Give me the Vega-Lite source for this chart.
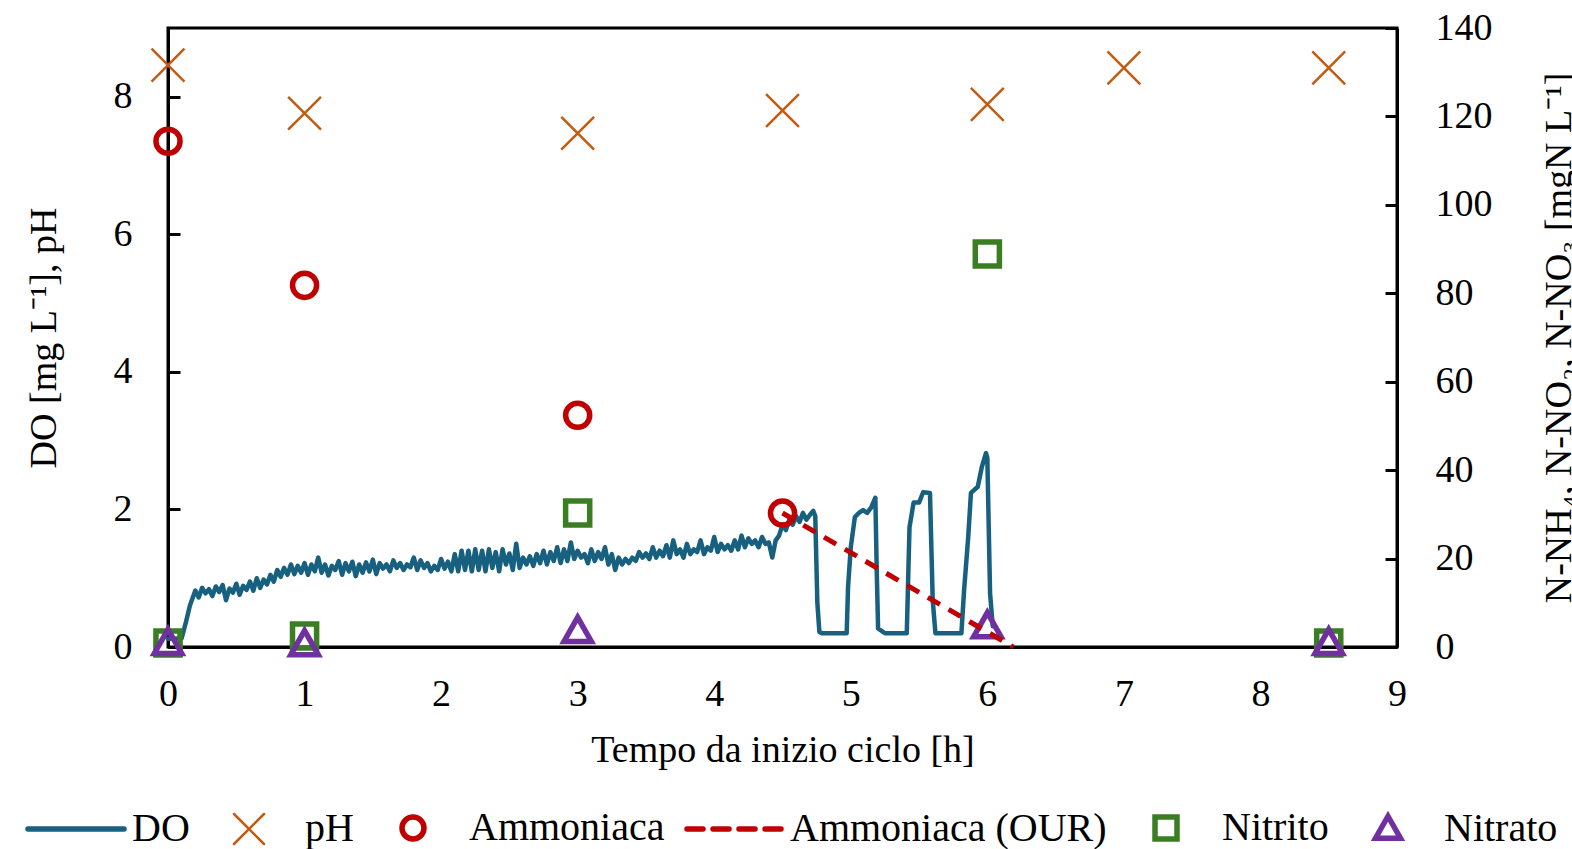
{
  "$schema": "https://vega.github.io/schema/vega-lite/v6.json",
  "width": 1229,
  "height": 619,
  "autosize": {"type": "none"},
  "padding": {"left": 168, "top": 28, "right": 175, "bottom": 202},
  "config": {
    "font": "Liberation Serif",
    "view": {"stroke": "black", "strokeWidth": 3},
    "axis": {
      "grid": false,
      "domainColor": "black",
      "domainWidth": 3,
      "tickColor": "black",
      "tickWidth": 3,
      "labelFont": "Liberation Serif",
      "labelFontSize": 38,
      "labelColor": "black",
      "labelFlush": false,
      "titleFont": "Liberation Serif",
      "titleFontSize": 38,
      "titleFontWeight": "normal",
      "titleColor": "black",
      "format": "d"
    },
    "legend": {
      "orient": "none",
      "legendX": -140,
      "legendY": 800,
      "direction": "horizontal",
      "symbolSize": 10000,
      "labelFont": "Liberation Serif",
      "labelFontSize": 40,
      "labelColor": "black",
      "labelOffset": 6,
      "columnPadding": 11,
      "padding": 0,
      "labelLimit": 1000,
      "title": null
    }
  },
  "datasets": {
    "do": [
      {"t": 0, "v": 0.12, "serie": "DO"}, {"t": 0.05, "v": 0.12, "serie": "DO"}, {"t": 0.1, "v": 0.13, "serie": "DO"},
      {"t": 0.13, "v": 0.35, "serie": "DO"}, {"t": 0.16, "v": 0.6, "serie": "DO"}, {"t": 0.2, "v": 0.82, "serie": "DO"},
      {"t": 0.225, "v": 0.72, "serie": "DO"}, {"t": 0.25, "v": 0.86, "serie": "DO"}, {"t": 0.275, "v": 0.78, "serie": "DO"},
      {"t": 0.3, "v": 0.84, "serie": "DO"}, {"t": 0.325, "v": 0.74, "serie": "DO"}, {"t": 0.35, "v": 0.88, "serie": "DO"},
      {"t": 0.375, "v": 0.8, "serie": "DO"}, {"t": 0.4, "v": 0.9, "serie": "DO"}, {"t": 0.425, "v": 0.68, "serie": "DO"},
      {"t": 0.45, "v": 0.85, "serie": "DO"}, {"t": 0.475, "v": 0.79, "serie": "DO"}, {"t": 0.5, "v": 0.92, "serie": "DO"},
      {"t": 0.525, "v": 0.76, "serie": "DO"}, {"t": 0.55, "v": 0.89, "serie": "DO"}, {"t": 0.575, "v": 0.83, "serie": "DO"},
      {"t": 0.6, "v": 0.95, "serie": "DO"}, {"t": 0.625, "v": 0.82, "serie": "DO"}, {"t": 0.65, "v": 1.0, "serie": "DO"},
      {"t": 0.675, "v": 0.86, "serie": "DO"}, {"t": 0.7, "v": 0.98, "serie": "DO"}, {"t": 0.725, "v": 0.91, "serie": "DO"},
      {"t": 0.75, "v": 1.05, "serie": "DO"}, {"t": 0.775, "v": 0.95, "serie": "DO"}, {"t": 0.8, "v": 1.12, "serie": "DO"},
      {"t": 0.825, "v": 1.02, "serie": "DO"}, {"t": 0.85, "v": 1.15, "serie": "DO"}, {"t": 0.875, "v": 1.05, "serie": "DO"},
      {"t": 0.9, "v": 1.2, "serie": "DO"}, {"t": 0.925, "v": 1.06, "serie": "DO"}, {"t": 0.95, "v": 1.18, "serie": "DO"},
      {"t": 0.975, "v": 1.08, "serie": "DO"}, {"t": 1.0, "v": 1.22, "serie": "DO"}, {"t": 1.025, "v": 1.05, "serie": "DO"},
      {"t": 1.05, "v": 1.2, "serie": "DO"}, {"t": 1.075, "v": 1.1, "serie": "DO"}, {"t": 1.1, "v": 1.3, "serie": "DO"},
      {"t": 1.125, "v": 1.08, "serie": "DO"}, {"t": 1.15, "v": 1.2, "serie": "DO"}, {"t": 1.175, "v": 1.04, "serie": "DO"},
      {"t": 1.2, "v": 1.18, "serie": "DO"}, {"t": 1.225, "v": 1.12, "serie": "DO"}, {"t": 1.25, "v": 1.25, "serie": "DO"},
      {"t": 1.275, "v": 1.05, "serie": "DO"}, {"t": 1.3, "v": 1.22, "serie": "DO"}, {"t": 1.325, "v": 1.1, "serie": "DO"},
      {"t": 1.35, "v": 1.24, "serie": "DO"}, {"t": 1.375, "v": 1.03, "serie": "DO"}, {"t": 1.4, "v": 1.2, "serie": "DO"},
      {"t": 1.425, "v": 1.08, "serie": "DO"}, {"t": 1.45, "v": 1.23, "serie": "DO"}, {"t": 1.475, "v": 1.1, "serie": "DO"},
      {"t": 1.5, "v": 1.27, "serie": "DO"}, {"t": 1.525, "v": 1.06, "serie": "DO"}, {"t": 1.55, "v": 1.22, "serie": "DO"},
      {"t": 1.575, "v": 1.14, "serie": "DO"}, {"t": 1.6, "v": 1.2, "serie": "DO"}, {"t": 1.625, "v": 1.1, "serie": "DO"},
      {"t": 1.65, "v": 1.26, "serie": "DO"}, {"t": 1.675, "v": 1.15, "serie": "DO"}, {"t": 1.7, "v": 1.22, "serie": "DO"},
      {"t": 1.725, "v": 1.12, "serie": "DO"}, {"t": 1.75, "v": 1.2, "serie": "DO"}, {"t": 1.775, "v": 1.16, "serie": "DO"},
      {"t": 1.8, "v": 1.3, "serie": "DO"}, {"t": 1.825, "v": 1.12, "serie": "DO"}, {"t": 1.85, "v": 1.26, "serie": "DO"},
      {"t": 1.875, "v": 1.15, "serie": "DO"}, {"t": 1.9, "v": 1.22, "serie": "DO"}, {"t": 1.925, "v": 1.1, "serie": "DO"},
      {"t": 1.95, "v": 1.18, "serie": "DO"}, {"t": 1.975, "v": 1.12, "serie": "DO"}, {"t": 2.0, "v": 1.28, "serie": "DO"},
      {"t": 2.025, "v": 1.14, "serie": "DO"}, {"t": 2.05, "v": 1.24, "serie": "DO"}, {"t": 2.075, "v": 1.1, "serie": "DO"},
      {"t": 2.1, "v": 1.35, "serie": "DO"}, {"t": 2.125, "v": 1.1, "serie": "DO"}, {"t": 2.15, "v": 1.4, "serie": "DO"},
      {"t": 2.175, "v": 1.12, "serie": "DO"}, {"t": 2.2, "v": 1.4, "serie": "DO"}, {"t": 2.225, "v": 1.1, "serie": "DO"},
      {"t": 2.25, "v": 1.42, "serie": "DO"}, {"t": 2.275, "v": 1.12, "serie": "DO"}, {"t": 2.3, "v": 1.4, "serie": "DO"},
      {"t": 2.325, "v": 1.1, "serie": "DO"}, {"t": 2.35, "v": 1.42, "serie": "DO"}, {"t": 2.375, "v": 1.15, "serie": "DO"},
      {"t": 2.4, "v": 1.38, "serie": "DO"}, {"t": 2.425, "v": 1.1, "serie": "DO"}, {"t": 2.45, "v": 1.42, "serie": "DO"},
      {"t": 2.475, "v": 1.2, "serie": "DO"}, {"t": 2.5, "v": 1.36, "serie": "DO"}, {"t": 2.525, "v": 1.12, "serie": "DO"},
      {"t": 2.55, "v": 1.5, "serie": "DO"}, {"t": 2.575, "v": 1.15, "serie": "DO"}, {"t": 2.6, "v": 1.3, "serie": "DO"},
      {"t": 2.625, "v": 1.2, "serie": "DO"}, {"t": 2.65, "v": 1.32, "serie": "DO"}, {"t": 2.675, "v": 1.18, "serie": "DO"},
      {"t": 2.7, "v": 1.35, "serie": "DO"}, {"t": 2.725, "v": 1.22, "serie": "DO"}, {"t": 2.75, "v": 1.4, "serie": "DO"},
      {"t": 2.775, "v": 1.2, "serie": "DO"}, {"t": 2.8, "v": 1.38, "serie": "DO"}, {"t": 2.825, "v": 1.25, "serie": "DO"},
      {"t": 2.85, "v": 1.45, "serie": "DO"}, {"t": 2.875, "v": 1.22, "serie": "DO"}, {"t": 2.9, "v": 1.42, "serie": "DO"},
      {"t": 2.925, "v": 1.25, "serie": "DO"}, {"t": 2.95, "v": 1.52, "serie": "DO"}, {"t": 2.975, "v": 1.28, "serie": "DO"},
      {"t": 3.0, "v": 1.4, "serie": "DO"}, {"t": 3.025, "v": 1.3, "serie": "DO"}, {"t": 3.05, "v": 1.35, "serie": "DO"},
      {"t": 3.075, "v": 1.22, "serie": "DO"}, {"t": 3.1, "v": 1.42, "serie": "DO"}, {"t": 3.125, "v": 1.25, "serie": "DO"},
      {"t": 3.15, "v": 1.38, "serie": "DO"}, {"t": 3.175, "v": 1.28, "serie": "DO"}, {"t": 3.2, "v": 1.45, "serie": "DO"},
      {"t": 3.225, "v": 1.2, "serie": "DO"}, {"t": 3.25, "v": 1.35, "serie": "DO"}, {"t": 3.275, "v": 1.12, "serie": "DO"},
      {"t": 3.3, "v": 1.3, "serie": "DO"}, {"t": 3.325, "v": 1.2, "serie": "DO"}, {"t": 3.35, "v": 1.28, "serie": "DO"},
      {"t": 3.375, "v": 1.22, "serie": "DO"}, {"t": 3.4, "v": 1.3, "serie": "DO"}, {"t": 3.425, "v": 1.25, "serie": "DO"},
      {"t": 3.45, "v": 1.38, "serie": "DO"}, {"t": 3.475, "v": 1.3, "serie": "DO"}, {"t": 3.5, "v": 1.36, "serie": "DO"},
      {"t": 3.525, "v": 1.28, "serie": "DO"}, {"t": 3.55, "v": 1.45, "serie": "DO"}, {"t": 3.575, "v": 1.3, "serie": "DO"},
      {"t": 3.6, "v": 1.4, "serie": "DO"}, {"t": 3.625, "v": 1.32, "serie": "DO"}, {"t": 3.65, "v": 1.48, "serie": "DO"},
      {"t": 3.675, "v": 1.3, "serie": "DO"}, {"t": 3.7, "v": 1.55, "serie": "DO"}, {"t": 3.725, "v": 1.35, "serie": "DO"},
      {"t": 3.75, "v": 1.42, "serie": "DO"}, {"t": 3.775, "v": 1.3, "serie": "DO"}, {"t": 3.8, "v": 1.5, "serie": "DO"},
      {"t": 3.825, "v": 1.35, "serie": "DO"}, {"t": 3.85, "v": 1.42, "serie": "DO"}, {"t": 3.875, "v": 1.38, "serie": "DO"},
      {"t": 3.9, "v": 1.55, "serie": "DO"}, {"t": 3.925, "v": 1.35, "serie": "DO"}, {"t": 3.95, "v": 1.45, "serie": "DO"},
      {"t": 3.975, "v": 1.4, "serie": "DO"}, {"t": 4.0, "v": 1.6, "serie": "DO"}, {"t": 4.025, "v": 1.38, "serie": "DO"},
      {"t": 4.05, "v": 1.5, "serie": "DO"}, {"t": 4.075, "v": 1.42, "serie": "DO"}, {"t": 4.1, "v": 1.48, "serie": "DO"},
      {"t": 4.125, "v": 1.4, "serie": "DO"}, {"t": 4.15, "v": 1.55, "serie": "DO"}, {"t": 4.175, "v": 1.42, "serie": "DO"},
      {"t": 4.2, "v": 1.62, "serie": "DO"}, {"t": 4.225, "v": 1.45, "serie": "DO"}, {"t": 4.25, "v": 1.58, "serie": "DO"},
      {"t": 4.275, "v": 1.5, "serie": "DO"}, {"t": 4.3, "v": 1.55, "serie": "DO"}, {"t": 4.325, "v": 1.45, "serie": "DO"},
      {"t": 4.35, "v": 1.6, "serie": "DO"}, {"t": 4.375, "v": 1.5, "serie": "DO"}, {"t": 4.4, "v": 1.52, "serie": "DO"},
      {"t": 4.425, "v": 1.3, "serie": "DO"}, {"t": 4.45, "v": 1.55, "serie": "DO"}, {"t": 4.475, "v": 1.62, "serie": "DO"},
      {"t": 4.5, "v": 1.78, "serie": "DO"}, {"t": 4.525, "v": 1.7, "serie": "DO"}, {"t": 4.55, "v": 1.85, "serie": "DO"},
      {"t": 4.575, "v": 1.78, "serie": "DO"}, {"t": 4.6, "v": 1.9, "serie": "DO"}, {"t": 4.625, "v": 1.82, "serie": "DO"},
      {"t": 4.65, "v": 1.95, "serie": "DO"}, {"t": 4.675, "v": 1.85, "serie": "DO"}, {"t": 4.7, "v": 1.92, "serie": "DO"},
      {"t": 4.725, "v": 1.98, "serie": "DO"}, {"t": 4.74, "v": 1.9, "serie": "DO"}, {"t": 4.755, "v": 0.65, "serie": "DO"},
      {"t": 4.77, "v": 0.22, "serie": "DO"}, {"t": 4.79, "v": 0.2, "serie": "DO"}, {"t": 4.97, "v": 0.2, "serie": "DO"},
      {"t": 4.98, "v": 0.87, "serie": "DO"}, {"t": 5.0, "v": 1.45, "serie": "DO"}, {"t": 5.03, "v": 1.89, "serie": "DO"},
      {"t": 5.06, "v": 1.95, "serie": "DO"}, {"t": 5.09, "v": 1.99, "serie": "DO"}, {"t": 5.12, "v": 1.95, "serie": "DO"},
      {"t": 5.15, "v": 2.03, "serie": "DO"}, {"t": 5.18, "v": 2.17, "serie": "DO"}, {"t": 5.19, "v": 1.12, "serie": "DO"},
      {"t": 5.2, "v": 0.27, "serie": "DO"}, {"t": 5.25, "v": 0.2, "serie": "DO"}, {"t": 5.41, "v": 0.2, "serie": "DO"},
      {"t": 5.43, "v": 1.74, "serie": "DO"}, {"t": 5.46, "v": 2.1, "serie": "DO"}, {"t": 5.5, "v": 2.1, "serie": "DO"},
      {"t": 5.53, "v": 2.25, "serie": "DO"}, {"t": 5.58, "v": 2.24, "serie": "DO"}, {"t": 5.6, "v": 0.68, "serie": "DO"},
      {"t": 5.62, "v": 0.2, "serie": "DO"}, {"t": 5.81, "v": 0.2, "serie": "DO"}, {"t": 5.83, "v": 0.83, "serie": "DO"},
      {"t": 5.86, "v": 1.6, "serie": "DO"}, {"t": 5.88, "v": 2.24, "serie": "DO"}, {"t": 5.93, "v": 2.33, "serie": "DO"},
      {"t": 5.96, "v": 2.62, "serie": "DO"}, {"t": 5.99, "v": 2.82, "serie": "DO"}, {"t": 6.0, "v": 2.75, "serie": "DO"},
      {"t": 6.02, "v": 0.78, "serie": "DO"}, {"t": 6.04, "v": 0.3, "serie": "DO"}
    ],
    "ph": [
      {"t": 0, "v": 8.46, "serie": "pH"}, {"t": 1, "v": 7.76, "serie": "pH"}, {"t": 3, "v": 7.47, "serie": "pH"},
      {"t": 4.5, "v": 7.8, "serie": "pH"}, {"t": 6, "v": 7.89, "serie": "pH"}, {"t": 7, "v": 8.42, "serie": "pH"},
      {"t": 8.5, "v": 8.42, "serie": "pH"}
    ],
    "n": [
      {"t": 0, "v": 114.4, "serie": "Ammoniaca"}, {"t": 1, "v": 81.8, "serie": "Ammoniaca"},
      {"t": 3, "v": 52.4, "serie": "Ammoniaca"}, {"t": 4.5, "v": 30.3, "serie": "Ammoniaca"},
      {"t": 0, "v": 0.9, "serie": "Nitrito"}, {"t": 1, "v": 2.5, "serie": "Nitrito"},
      {"t": 3, "v": 30.3, "serie": "Nitrito"}, {"t": 6, "v": 88.9, "serie": "Nitrito"},
      {"t": 8.5, "v": 0.9, "serie": "Nitrito"},
      {"t": 0, "v": 0.9, "serie": "Nitrato"}, {"t": 1, "v": 0.6, "serie": "Nitrato"},
      {"t": 3, "v": 3.6, "serie": "Nitrato"}, {"t": 6, "v": 4.7, "serie": "Nitrato"},
      {"t": 8.5, "v": 0.9, "serie": "Nitrato"}
    ],
    "our": [
      {"t": 4.5, "v": 30.3, "serie": "Ammoniaca (OUR)"}, {"t": 6.19, "v": 0, "serie": "Ammoniaca (OUR)"}
    ]
  },
  "layer": [
    {
      "layer": [
        {
          "data": {"name": "do"},
          "mark": {"type": "line", "strokeWidth": 4.5, "strokeJoin": "round", "strokeCap": "round"},
          "encoding": {
            "x": {"field": "t", "type": "quantitative", "scale": {"domain": [0, 9], "nice": false},
              "axis": {"values": [0, 1, 2, 3, 4, 5, 6, 7, 8, 9], "ticks": false, "labelPadding": 28, "titlePadding": 18, "title": "Tempo da inizio ciclo [h]"}},
            "y": {"field": "v", "type": "quantitative", "scale": {"domain": [0, 9], "nice": false},
              "axis": {"orient": "left", "values": [0, 2, 4, 6, 8], "tickSize": -12, "labelPadding": 48, "titlePadding": 50, "title": "DO [mg L⁻¹], pH"}},
            "color": {"field": "serie", "type": "nominal",
              "scale": {"domain": ["DO", "pH", "Ammoniaca", "Ammoniaca (OUR)", "Nitrito", "Nitrato"],
                "range": ["#17607F", "#C55A11", "#C00000", "#C00000", "#3A7D22", "#7030A0"]},
              "legend": {
                "symbolSize": 10000,
                "encode": {
                  "symbols": {"update": {
                    "x": {"value": 48},
                    "y": {"value": 0},
                    "size": {"value": 10000},
                    "fill": {"value": "transparent"},
                    "stroke": {"scale": "color", "field": "value"},
                    "strokeWidth": {"signal": "datum.value === 'pH' ? 2.5 : 5.5"},
                    "strokeCap": {"value": "round"},
                    "opacity": {"value": 1}
                  }},
                  "labels": {"update": {
                    "x": {"value": 104},
                    "y": {"value": 0},
                    "baseline": {"value": "middle"}
                  }}
                }
              }}
          }
        },
        {
          "data": {"name": "ph"},
          "mark": {"type": "point", "filled": false, "size": 12000, "strokeWidth": 2.5, "opacity": 1},
          "encoding": {
            "x": {"field": "t", "type": "quantitative"},
            "y": {"field": "v", "type": "quantitative"},
            "color": {"field": "serie", "type": "nominal"},
            "shape": {"field": "serie", "type": "nominal",
              "scale": {"domain": ["DO", "pH", "Ammoniaca", "Ammoniaca (OUR)", "Nitrito", "Nitrato"],
                "range": [
                  "M-0.96,0H0.96",
                  "M-0.3,-0.3L0.3,0.3M-0.3,0.3L0.3,-0.3",
                  "M0.22,0A0.22,0.22,0,1,1,-0.22,0A0.22,0.22,0,1,1,0.22,0Z",
                  "M-0.94,0H-0.62M-0.42,0H-0.1M0.1,0H0.42M0.62,0H0.94",
                  "M-0.22,-0.22H0.22V0.22H-0.22Z",
                  "M0,-0.25L0.25,0.19H-0.25Z"
                ]},
              "legend": {"symbolSize": 10000}}
          }
        }
      ]
    },
    {
      "layer": [
        {
          "data": {"name": "n"},
          "mark": {"type": "point", "filled": false, "size": 12000, "strokeWidth": 5.5, "opacity": 1},
          "encoding": {
            "x": {"field": "t", "type": "quantitative"},
            "y": {"field": "v", "type": "quantitative", "scale": {"domain": [0, 140], "nice": false},
              "axis": {"orient": "right", "values": [0, 20, 40, 60, 80, 100, 120, 140], "tickSize": -12, "labelPadding": 50, "titlePadding": 86, "titleAngle": 270, "title": "N-NH₄, N-NO₂, N-NO₃ [mgN L⁻¹]"}},
            "color": {"field": "serie", "type": "nominal"},
            "shape": {"field": "serie", "type": "nominal"}
          }
        },
        {
          "data": {"name": "our"},
          "mark": {"type": "line", "strokeWidth": 5, "strokeDash": [14, 10]},
          "encoding": {
            "x": {"field": "t", "type": "quantitative"},
            "y": {"field": "v", "type": "quantitative"},
            "color": {"field": "serie", "type": "nominal"}
          }
        }
      ]
    }
  ],
  "resolve": {"scale": {"y": "independent"}}
}
